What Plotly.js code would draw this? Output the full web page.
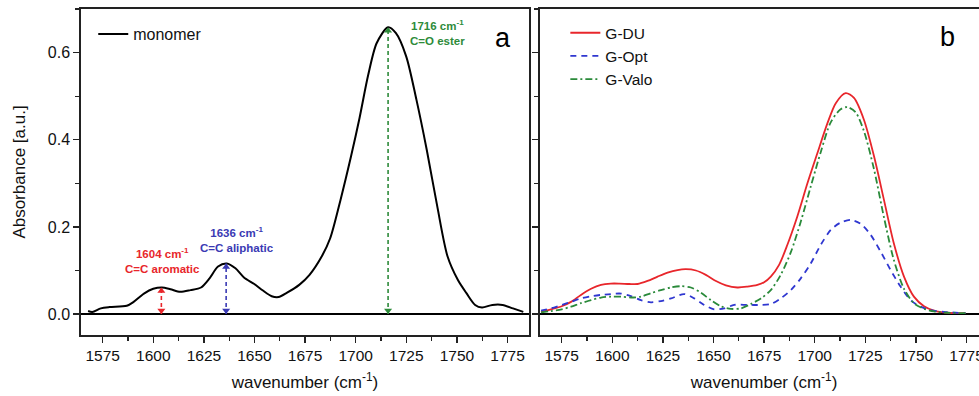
<!DOCTYPE html>
<html>
<head>
<meta charset="utf-8">
<script src="https://cdn.plot.ly/plotly-3.0.1.min.js"></script>
<style>
html,body{margin:0;padding:0;overflow:hidden;background:#fff;}
#chart{width:1000px;height:396px;}
</style>
</head>
<body>
<div id="chart"></div>
<script>
// ---- Data ----
const monoWn  = [1567.8,1569.9,1574.1,1578.4,1586.9,1590.3,1595.4,1600,1604.3,1608.5,1613.3,1618.4,1623.6,1627.8,1632,1636.3,1640.6,1644.8,1649.9,1654.2,1658.5,1661.9,1666.1,1672.1,1677.2,1683.2,1687.4,1692.5,1697.7,1701.9,1706.2,1710.4,1716,1719.8,1724.9,1730,1735.1,1740.3,1745.4,1750.5,1754.7,1759,1762.4,1767.5,1772.6,1777.7,1782.8];
const monoAbs = [0.007,0.005,0.013,0.016,0.019,0.028,0.047,0.058,0.061,0.057,0.051,0.055,0.061,0.082,0.109,0.116,0.105,0.084,0.069,0.054,0.041,0.039,0.049,0.067,0.090,0.132,0.174,0.262,0.362,0.450,0.549,0.622,0.658,0.645,0.592,0.492,0.377,0.247,0.132,0.078,0.048,0.021,0.015,0.021,0.021,0.013,0.005];

const duWn  = [1564.8,1569.7,1575,1579.6,1584.5,1589.5,1594.4,1599.3,1603.5,1608.4,1612.5,1617.4,1622.4,1627.3,1632.2,1636.3,1641.3,1646.2,1651.2,1656.1,1661.8,1666.8,1671.7,1675,1678.3,1682.4,1686.5,1691.4,1696.4,1701.3,1706.3,1710.4,1715.3,1719.4,1724.3,1729.3,1734.2,1739.1,1744.1,1749,1754,1758.9,1765.5,1774.5];
const duAbs = [0.005,0.011,0.018,0.028,0.044,0.058,0.067,0.070,0.070,0.069,0.069,0.076,0.086,0.095,0.101,0.103,0.100,0.090,0.076,0.066,0.061,0.063,0.067,0.073,0.086,0.113,0.159,0.224,0.300,0.369,0.438,0.484,0.507,0.496,0.446,0.362,0.262,0.162,0.086,0.040,0.018,0.008,0.003,0.002];

const optWn  = [1564.8,1569.7,1575,1579.6,1584.5,1589.5,1594.4,1599.3,1604.3,1609.2,1614.1,1619.1,1624,1629,1635.5,1640.5,1645.4,1650.3,1655.3,1660.2,1666.8,1673.4,1678.3,1683.2,1688.2,1693.1,1698,1703,1707.9,1712.8,1717.8,1722.7,1727.6,1732.6,1737.5,1742.4,1747.4,1752.3,1757.2,1763.8,1774.5];
const optAbs = [0.008,0.013,0.021,0.028,0.036,0.041,0.044,0.046,0.047,0.041,0.032,0.027,0.030,0.036,0.046,0.036,0.021,0.011,0.013,0.021,0.021,0.021,0.023,0.036,0.055,0.082,0.116,0.159,0.193,0.210,0.216,0.207,0.182,0.143,0.101,0.063,0.032,0.017,0.009,0.005,0.002];

const valoWn  = [1564.8,1569.7,1575,1579.6,1584.5,1589.5,1594.4,1599.3,1604.3,1609.2,1614.1,1619.1,1624,1629,1633.9,1638.8,1643.8,1648.7,1653.6,1658.6,1663.5,1668.4,1673.4,1678.3,1683.2,1688.2,1693.1,1698,1703,1707.9,1712.8,1716.1,1720.2,1724.3,1729.3,1734.2,1739.1,1744.1,1749,1754,1758.9,1765.5,1774.5];
const valoAbs = [0.004,0.007,0.011,0.017,0.025,0.032,0.038,0.040,0.040,0.038,0.040,0.048,0.055,0.061,0.064,0.061,0.049,0.032,0.018,0.012,0.013,0.023,0.036,0.055,0.090,0.142,0.212,0.292,0.372,0.440,0.470,0.475,0.463,0.420,0.332,0.222,0.124,0.058,0.025,0.012,0.006,0.003,0.002];

const peakWn     = [1604, 1636, 1716];
const peakAbs    = [0.061, 0.116, 0.658];
const peakLabels = ['1604 cm<sup>-1</sup><br>C=C aromatic', '1636 cm<sup>-1</sup><br>C=C aliphatic', '1716 cm<sup>-1</sup><br>C=O ester'];
const peakColors = ['#e8262b', '#3a3ab4', '#2e8b3a'];
const labelWn    = [1604.8, 1641.4, 1740.2];
const labelAbs   = [0.122, 0.171, 0.645];

const xTickVals = [1575,1600,1625,1650,1675,1700,1725,1750,1775];
const seriesNames = ['monomer','G-DU','G-Opt','G-Valo'];

// ---- Figure ----
const FONT = 'Arial, "Liberation Sans", sans-serif';
const frame = '#222';
const headOffset = 0.008; // half arrowhead height in data units

const traces = [
  {x: monoWn, y: monoAbs, xaxis:'x', yaxis:'y', mode:'lines', name: seriesNames[0], legend:'legend',
   line:{color:'#000', width:2, shape:'spline', smoothing:0.8}},
  {x: duWn, y: duAbs, xaxis:'x2', yaxis:'y2', mode:'lines', name: seriesNames[1], legend:'legend2',
   line:{color:'#e8262b', width:1.8, shape:'spline', smoothing:0.8}},
  {x: optWn, y: optAbs, xaxis:'x2', yaxis:'y2', mode:'lines', name: seriesNames[2], legend:'legend2',
   line:{color:'#2f37d0', width:1.8, dash:'6px,5px', shape:'spline', smoothing:0.8}},
  {x: valoWn, y: valoAbs, xaxis:'x2', yaxis:'y2', mode:'lines', name: seriesNames[3], legend:'legend2',
   line:{color:'#2a8a3a', width:1.8, dash:'7px,3px,2px,3px', shape:'spline', smoothing:0.8}}
];

const annotations = [];
peakWn.forEach((p, i) => {
  traces.push({x:[p,p], y:[0, peakAbs[i]], xaxis:'x', yaxis:'y', mode:'lines', showlegend:false,
    hoverinfo:'skip', line:{color:peakColors[i], width:1.6, dash:'4px,3px'}});
  traces.push({x:[p,p], y:[peakAbs[i]-headOffset, headOffset], xaxis:'x', yaxis:'y', mode:'markers', showlegend:false,
    hoverinfo:'skip', marker:{symbol:['triangle-up','triangle-down'], size:7, color:peakColors[i], line:{width:0}}});
  annotations.push({x:labelWn[i], y:labelAbs[i], xref:'x', yref:'y', showarrow:false,
    text:'<b>'+peakLabels[i].replace('<br>','</b><br><b>')+'</b>', align:'center',
    font:{family:FONT, size:11.5, color:peakColors[i]}});
});
annotations.push({x:0.465, y:0.962, xref:'paper', yref:'paper', text:'a', showarrow:false,
  font:{family:FONT, size:27, color:'#000'}});
annotations.push({x:0.966, y:0.966, xref:'paper', yref:'paper', text:'b', showarrow:false,
  font:{family:FONT, size:27, color:'#000'}});

const xCommon = {
  range:[1564.3, 1785.6], tickvals:xTickVals, ticks:'outside', ticklen:6, tickwidth:1.4, tickcolor:frame,
  minor:{ticks:'outside', ticklen:4, tickwidth:1.2, tickcolor:frame, dtick:12.5, tick0:1575},
  showline:true, linecolor:frame, linewidth:1.7, mirror:true, showgrid:false, zeroline:false,
  tickfont:{family:FONT, size:15.5, color:'#111'},
  title:{text:'wavenumber (cm<sup>-1</sup>)', font:{family:FONT, size:17, color:'#111'}, standoff:13}
};
const yCommon = {
  range:[-0.048, 0.70], dtick:0.2, tick0:0, tickformat:'.1f', ticks:'outside', ticklen:6, tickwidth:1.4, tickcolor:frame,
  minor:{ticks:'outside', ticklen:4, tickwidth:1.2, tickcolor:frame, dtick:0.1},
  showline:true, linecolor:frame, linewidth:1.7, mirror:true, showgrid:false,
  zeroline:true, zerolinecolor:'#000', zerolinewidth:1.3,
  tickfont:{family:FONT, size:16, color:'#111'}
};

const layout = {
  width:1000, height:396,
  margin:{l:81, r:12, t:9, b:61},
  paper_bgcolor:'#fff', plot_bgcolor:'#fff',
  font:{family:FONT},
  xaxis: Object.assign({}, xCommon, {domain:[0, 0.4939], anchor:'y'}),
  yaxis: Object.assign({}, yCommon, {domain:[0,1], anchor:'x',
    title:{text:'Absorbance [a.u.]', font:{family:FONT, size:17, color:'#111'}, standoff:18}}),
  xaxis2: Object.assign({}, xCommon, {domain:[0.5061, 1], anchor:'y2'}),
  yaxis2: Object.assign({}, yCommon, {domain:[0,1], anchor:'x2', showticklabels:false}),
  legend:{x:0.0135, y:0.975, xanchor:'left', yanchor:'top', bgcolor:'rgba(0,0,0,0)',
    font:{family:FONT, size:16, color:'#111'}, tracegroupgap:0},
  legend2:{x:0.534, y:0.978, xanchor:'left', yanchor:'top', bgcolor:'rgba(0,0,0,0)',
    font:{family:FONT, size:15.5, color:'#111'}, tracegroupgap:0},
  annotations: annotations,
  showlegend:true
};

Plotly.newPlot('chart', traces, layout, {displayModeBar:false, staticPlot:true});
</script>
</body>
</html>
